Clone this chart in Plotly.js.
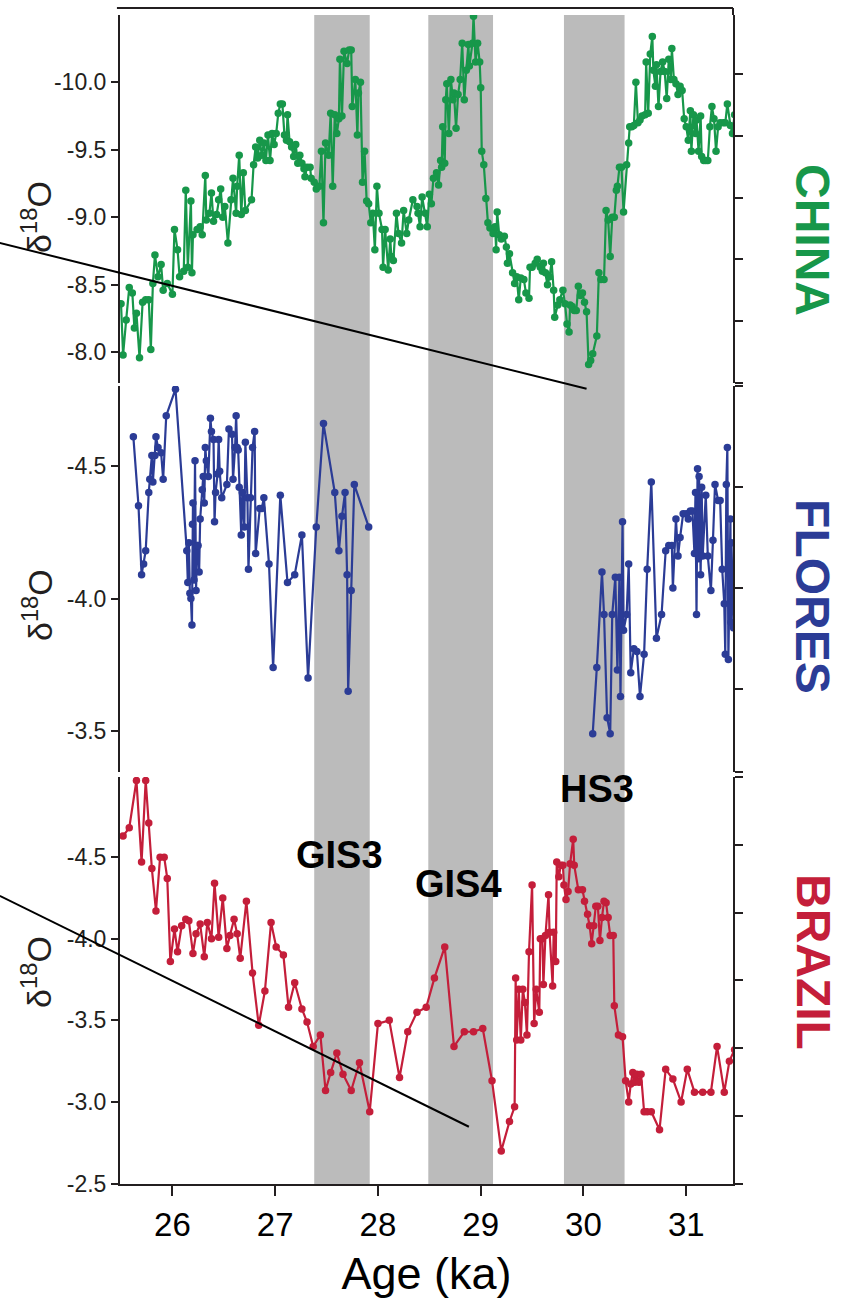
<!DOCTYPE html>
<html>
<head>
<meta charset="utf-8">
<script src="https://cdn.plot.ly/plotly-3.0.1.min.js"></script>
<style>html,body{margin:0;padding:0;background:#fff;}#chart{width:843px;height:1308px;}</style>
</head>
<body>
<div id="chart"></div>
<script>
// ---------------- DATA ----------------
const chinaAge = [25.50,25.52,25.55,25.58,25.61,25.63,25.65,25.68,25.71,25.74,25.77,25.79,25.81,25.83,25.86,25.89,25.91,25.95,26.00,26.02,26.05,26.07,26.11,26.13,26.15,26.18,26.19,26.20,26.24,26.27,26.29,26.32,26.33,26.36,26.38,26.40,26.43,26.45,26.47,26.49,26.51,26.54,26.57,26.59,26.62,26.63,26.65,26.67,26.69,26.71,26.77,26.79,26.81,26.83,26.85,26.87,26.89,26.91,26.93,26.95,26.97,26.99,27.01,27.03,27.05,27.07,27.09,27.11,27.12,27.14,27.16,27.18,27.20,27.22,27.24,27.26,27.28,27.29,27.31,27.34,27.35,27.38,27.40,27.43,27.45,27.47,27.49,27.52,27.54,27.56,27.58,27.60,27.62,27.63,27.65,27.67,27.70,27.72,27.74,27.75,27.78,27.80,27.81,27.83,27.85,27.87,27.89,27.91,27.93,27.95,27.97,27.99,28.01,28.04,28.05,28.07,28.10,28.12,28.13,28.15,28.18,28.20,28.23,28.25,28.28,28.30,28.34,28.38,28.39,28.41,28.43,28.46,28.48,28.50,28.52,28.54,28.57,28.59,28.61,28.62,28.63,28.65,28.66,28.67,28.69,28.71,28.73,28.74,28.76,28.78,28.80,28.82,28.84,28.86,28.88,28.89,28.92,28.93,28.95,28.97,28.99,29.00,29.01,29.03,29.05,29.07,29.09,29.12,29.14,29.15,29.16,29.18,29.20,29.23,29.25,29.26,29.28,29.31,29.33,29.35,29.37,29.39,29.42,29.44,29.47,29.48,29.50,29.53,29.55,29.58,29.60,29.61,29.63,29.65,29.67,29.69,29.71,29.72,29.75,29.77,29.80,29.82,29.84,29.86,29.87,29.89,29.91,29.93,29.95,29.97,29.99,30.01,30.03,30.05,30.07,30.09,30.13,30.15,30.17,30.20,30.22,30.24,30.26,30.28,30.30,30.32,30.33,30.35,30.37,30.39,30.42,30.44,30.45,30.47,30.49,30.51,30.53,30.55,30.57,30.60,30.61,30.63,30.65,30.67,30.68,30.70,30.71,30.73,30.75,30.77,30.79,30.81,30.83,30.85,30.86,30.88,30.90,30.92,30.94,30.96,30.98,31.00,31.02,31.04,31.05,31.07,31.09,31.10,31.12,31.14,31.15,31.17,31.19,31.21,31.23,31.25,31.27,31.29,31.31,31.33,31.36,31.38,31.40,31.43,31.45,31.47];
const chinaD18O = [-8.36,-7.98,-8.24,-8.48,-8.44,-8.18,-8.29,-7.96,-8.37,-8.39,-8.39,-8.02,-8.51,-8.72,-8.56,-8.65,-8.46,-8.51,-8.43,-8.91,-8.76,-8.56,-8.60,-9.20,-8.63,-9.12,-8.59,-8.87,-8.91,-8.93,-8.87,-9.31,-8.98,-9.03,-9.18,-8.97,-9.02,-9.13,-9.21,-9.00,-9.08,-8.81,-9.13,-9.29,-9.03,-9.23,-9.46,-9.02,-9.33,-9.05,-9.13,-9.39,-9.52,-9.44,-9.57,-9.46,-9.55,-9.42,-9.61,-9.42,-9.62,-9.54,-9.62,-9.77,-9.84,-9.84,-9.61,-9.57,-9.76,-9.56,-9.52,-9.45,-9.54,-9.40,-9.46,-9.40,-9.36,-9.30,-9.37,-9.37,-9.29,-9.26,-9.21,-9.23,-9.49,-8.96,-9.55,-9.46,-9.77,-9.23,-9.76,-9.62,-9.73,-10.17,-9.75,-10.23,-10.14,-10.24,-10.24,-9.82,-10.02,-9.61,-9.92,-10.00,-9.26,-9.49,-9.12,-9.10,-8.96,-9.03,-8.76,-9.23,-9.03,-8.91,-8.63,-8.91,-8.61,-8.84,-8.71,-8.68,-9.03,-8.88,-8.81,-9.05,-8.88,-8.98,-9.13,-9.08,-9.03,-8.93,-9.15,-9.03,-8.93,-9.17,-9.10,-9.29,-9.33,-9.24,-9.42,-9.37,-9.67,-9.40,-9.87,-9.99,-9.62,-10.02,-9.87,-9.92,-9.66,-9.91,-10.02,-10.29,-9.87,-10.09,-10.28,-10.12,-10.29,-10.49,-10.15,-10.29,-10.15,-9.96,-9.49,-9.39,-9.14,-8.96,-8.92,-8.88,-8.93,-8.76,-9.04,-8.87,-8.84,-8.86,-8.78,-8.66,-8.73,-8.59,-8.51,-8.56,-8.39,-8.55,-8.54,-8.44,-8.40,-8.63,-8.63,-8.66,-8.69,-8.63,-8.60,-8.66,-8.59,-8.50,-8.56,-8.67,-8.46,-8.26,-8.35,-8.39,-8.46,-8.36,-8.21,-8.15,-8.35,-8.34,-8.31,-8.31,-8.49,-8.42,-8.44,-8.37,-8.30,-7.91,-7.94,-7.99,-8.12,-8.59,-8.54,-8.54,-9.05,-8.98,-8.71,-9.00,-9.00,-9.20,-9.23,-9.37,-9.37,-9.04,-9.39,-9.55,-9.67,-9.67,-9.68,-10.00,-9.70,-9.72,-9.75,-9.76,-10.15,-9.77,-10.21,-10.34,-10.09,-9.97,-10.13,-9.82,-10.08,-10.15,-10.08,-9.88,-10.17,-10.02,-10.25,-10.02,-9.99,-9.91,-9.97,-9.94,-9.73,-9.67,-9.57,-9.79,-9.49,-9.76,-9.62,-9.72,-9.49,-9.75,-9.45,-9.42,-9.42,-9.42,-9.67,-9.82,-9.73,-9.49,-9.67,-9.70,-9.70,-9.70,-9.84,-9.68,-9.62,-9.76];

// Flores: null marks the hiatus in the record
const floresAge = [25.62,25.67,25.70,25.72,25.74,25.77,25.78,25.80,25.81,25.83,25.84,25.86,25.89,25.91,25.94,26.03,26.14,26.15,26.16,26.17,26.18,26.19,26.195,26.20,26.21,26.22,26.23,26.24,26.25,26.26,26.27,26.29,26.30,26.31,26.32,26.33,26.35,26.37,26.38,26.40,26.41,26.42,26.44,26.45,26.46,26.48,26.53,26.55,26.58,26.59,26.61,26.62,26.63,26.64,26.65,26.67,26.68,26.70,26.71,26.73,26.74,26.76,26.78,26.80,26.81,26.85,26.87,26.89,26.94,26.98,27.05,27.12,27.19,27.26,27.32,27.40,27.47,27.58,27.62,27.65,27.68,27.70,27.71,27.74,27.77,27.91,
  null,
  30.09,30.13,30.18,30.20,30.23,30.26,30.28,30.31,30.33,30.35,30.36,30.38,30.39,30.42,30.44,30.46,30.49,30.52,30.55,30.59,30.62,30.66,30.71,30.76,30.80,30.83,30.86,30.87,30.90,30.92,30.94,30.97,31.00,31.02,31.04,31.06,31.08,31.09,31.10,31.11,31.12,31.125,31.14,31.15,31.16,31.19,31.21,31.24,31.26,31.28,31.31,31.33,31.35,31.37,31.38,31.39,31.40,31.41,31.43,31.435,31.44,31.45,31.46];
const floresD18O = [-4.61,-4.35,-4.09,-4.13,-4.18,-4.40,-4.45,-4.54,-4.44,-4.54,-4.61,-4.57,-4.55,-4.45,-4.69,-4.79,-4.18,-4.06,-4.21,-4.02,-4.00,-3.90,-4.28,-4.36,-4.07,-4.52,-4.03,-4.20,-4.20,-4.10,-4.30,-4.41,-4.46,-4.36,-4.57,-4.52,-4.46,-4.68,-4.63,-4.60,-4.29,-4.40,-4.47,-4.60,-4.48,-4.38,-4.43,-4.64,-4.62,-4.45,-4.57,-4.69,-4.57,-4.56,-4.42,-4.24,-4.40,-4.27,-4.59,-4.38,-4.11,-4.38,-4.57,-4.63,-4.17,-4.34,-4.34,-4.38,-4.13,-3.74,-4.39,-4.06,-4.09,-4.24,-3.70,-4.27,-4.66,-4.40,-4.18,-4.31,-4.40,-4.09,-3.65,-4.03,-4.43,-4.27,
  null,
  -3.49,-3.74,-4.10,-3.94,-3.55,-3.49,-3.94,-4.08,-3.73,-4.08,-3.63,-4.29,-3.88,-3.94,-4.13,-3.72,-3.81,-3.80,-3.63,-3.79,-4.11,-4.44,-3.85,-3.94,-4.18,-4.20,-4.20,-4.04,-4.30,-4.16,-4.23,-4.32,-4.32,-4.30,-4.33,-4.33,-4.17,-4.40,-3.94,-4.49,-4.15,-4.46,-4.09,-4.42,-4.16,-4.39,-4.16,-4.03,-4.22,-4.43,-4.37,-4.37,-4.11,-3.98,-3.79,-4.43,-4.57,-3.77,-4.30,-3.91,-4.21,-3.99,-3.89];

const brazilAge = [25.52,25.58,25.65,25.70,25.74,25.77,25.80,25.84,25.88,25.92,25.95,25.98,26.02,26.05,26.09,26.13,26.16,26.20,26.23,26.27,26.31,26.34,26.38,26.41,26.45,26.49,26.53,26.56,26.60,26.63,26.66,26.72,26.78,26.84,26.90,26.96,27.01,27.08,27.13,27.19,27.26,27.31,27.37,27.44,27.49,27.54,27.60,27.66,27.74,27.82,27.92,28.00,28.11,28.21,28.29,28.38,28.47,28.55,28.65,28.74,28.84,28.93,29.02,29.11,29.20,29.28,29.33,29.34,29.35,29.37,29.39,29.41,29.43,29.45,29.47,29.50,29.52,29.54,29.57,29.58,29.60,29.61,29.63,29.66,29.67,29.70,29.71,29.73,29.74,29.76,29.78,29.80,29.81,29.83,29.85,29.87,29.90,29.91,29.95,29.99,30.01,30.04,30.06,30.08,30.10,30.12,30.14,30.16,30.18,30.20,30.22,30.24,30.26,30.29,30.30,30.34,30.38,30.41,30.44,30.46,30.48,30.50,30.52,30.54,30.56,30.59,30.62,30.66,30.74,30.80,30.87,30.95,31.01,31.08,31.16,31.24,31.30,31.37,31.42,31.47];
const brazilD18O = [-4.63,-4.68,-4.97,-4.47,-4.97,-4.71,-4.43,-4.17,-4.50,-4.50,-4.37,-3.86,-4.06,-3.92,-4.08,-4.12,-4.11,-3.91,-4.03,-4.09,-3.89,-4.10,-4.00,-4.34,-4.01,-4.25,-3.94,-4.02,-4.12,-4.03,-3.88,-4.23,-3.79,-3.47,-3.68,-4.10,-3.95,-3.90,-3.58,-3.73,-3.57,-3.49,-3.34,-3.41,-3.07,-3.18,-3.30,-3.17,-3.07,-3.24,-2.94,-3.48,-3.50,-3.15,-3.43,-3.55,-3.58,-3.76,-3.95,-3.34,-3.43,-3.43,-3.45,-3.13,-2.70,-2.88,-2.97,-3.76,-3.38,-3.69,-3.38,-3.69,-3.61,-3.41,-3.92,-4.33,-3.48,-3.69,-3.55,-4.00,-4.00,-3.72,-4.02,-4.27,-4.04,-3.71,-4.04,-3.86,-4.47,-4.38,-4.45,-4.45,-4.33,-4.24,-4.29,-4.46,-4.61,-4.45,-4.30,-4.30,-4.23,-4.15,-4.08,-3.97,-4.08,-4.20,-4.20,-3.99,-4.13,-4.23,-4.22,-4.13,-4.02,-4.02,-3.59,-3.41,-3.40,-3.13,-3.00,-3.11,-3.18,-3.12,-3.17,-3.12,-3.17,-2.94,-2.94,-2.94,-2.83,-3.20,-3.14,-3.00,-3.20,-3.06,-3.06,-3.06,-3.34,-3.06,-3.25,-3.32];

// shaded events (start, end in ka) and their labels
const eventStart = [27.38, 28.49, 29.81];
const eventEnd   = [27.92, 29.12, 30.40];
const eventName  = ['GIS3', 'GIS4', 'HS3'];

// trend lines (age, δ18O end points)
const chinaTrendAge = [24.32, 30.03];
const chinaTrendVal = [-8.81, -7.73];
const brazilTrendAge = [24.32, 28.885];
const brazilTrendVal = [-4.263, -2.848];

const xTicks = [26, 27, 28, 29, 30, 31];
const chinaTicks = [-10.0, -9.5, -9.0, -8.5, -8.0];
const floresTicks = [-4.5, -4.0, -3.5];
const brazilTicks = [-4.5, -4.0, -3.5, -3.0, -2.5];

// ---------------- STYLE ----------------
const GREEN = '#17974A', BLUE = '#2B3C96', RED = '#C41E3A', AX = '#231F20', BAND = '#BBBBBB';
const FONT = 'Liberation Sans, Arial, Helvetica, sans-serif';
const xRange = [25.49, 31.455];
const chinaRange = [-7.7726, -10.4985];
const floresRange = [-3.3453, -4.8019];
const brazilRange = [-2.497, -4.9914];

function series(x, y, color, yax) {
  return {x: x, y: y, xaxis: 'x', yaxis: yax, type: 'scatter', mode: 'lines+markers',
    connectgaps: false, line: {color: color, width: 2.2}, marker: {color: color, size: 7.5},
    hoverinfo: 'x+y'};
}
const traces = [
  series(chinaAge, chinaD18O, GREEN, 'y'),
  series(floresAge, floresD18O, BLUE, 'y2'),
  series(brazilAge, brazilD18O, RED, 'y3'),
  {x: [], y: [], xaxis: 'x', yaxis: 'y4', type: 'scatter'},
  {x: [], y: [], xaxis: 'x', yaxis: 'y5', type: 'scatter'},
  {x: [], y: [], xaxis: 'x', yaxis: 'y6', type: 'scatter'}
];

function leftAxis(domain, range, ticks) {
  return {domain: domain, range: range, anchor: 'x', autorange: false,
    tickvals: ticks, ticktext: ticks.map(v => v.toFixed(1)),
    ticks: 'outside', ticklen: 7, tickwidth: 2, tickcolor: AX,
    showline: true, linewidth: 2, linecolor: AX, showgrid: false, zeroline: false,
    tickfont: {family: FONT, size: 23, color: AX}};
}
function rightAxis(over, range, ticks) {
  return {overlaying: over, side: 'right', anchor: 'x', range: range, autorange: false,
    tickvals: ticks, showticklabels: false, ticks: 'outside', ticklen: 8, tickwidth: 2,
    tickcolor: AX, showline: true, linewidth: 2, linecolor: AX, showgrid: false, zeroline: false};
}

const dChina = [0.68112, 0.99405], dFlores = [0.35034, 0.67857], dBrazil = [0, 0.34609];

const shapes = [];
eventStart.forEach((s, i) => shapes.push({type: 'rect', xref: 'x', yref: 'paper',
  x0: s, x1: eventEnd[i], y0: 0, y1: dChina[1], fillcolor: BAND, line: {width: 0}, layer: 'below'}));
function frac(v, r) { return (v - r[0]) / (r[1] - r[0]); }
shapes.push({type: 'line', xref: 'x domain', yref: 'y domain',
  x0: frac(chinaTrendAge[0], xRange), x1: frac(chinaTrendAge[1], xRange),
  y0: frac(chinaTrendVal[0], chinaRange), y1: frac(chinaTrendVal[1], chinaRange),
  line: {color: '#000', width: 2}});
shapes.push({type: 'line', xref: 'x domain', yref: 'y3 domain',
  x0: frac(brazilTrendAge[0], xRange), x1: frac(brazilTrendAge[1], xRange),
  y0: frac(brazilTrendVal[0], brazilRange), y1: frac(brazilTrendVal[1], brazilRange),
  line: {color: '#000', width: 2}});
// top frame line, top of right axis and x-axis line extension
shapes.push({type: 'line', xref: 'paper', yref: 'paper', x0: -0.005, x1: 1.0, y0: 1, y1: 1, line: {color: AX, width: 2}});
shapes.push({type: 'line', xref: 'paper', yref: 'paper', x0: 1.0, x1: 1.0, y0: dChina[1], y1: 1, line: {color: AX, width: 2}});
shapes.push({type: 'line', xref: 'paper', yref: 'paper', x0: 1.0, x1: 1.015, y0: 0, y1: 0, line: {color: AX, width: 2}});

const annotations = [];
const labelX = [27.63, 28.78, 30.135];
const labelY = [0.2795, 0.2555, 0.3355];
eventName.forEach((n, i) => annotations.push({text: n, xref: 'x', yref: 'paper',
  x: labelX[i], y: labelY[i], xanchor: 'center', yanchor: 'middle', showarrow: false,
  font: {family: FONT, size: 38, color: '#000', weight: 'bold'}}));
const titleFont = {family: FONT, size: 34, color: AX};
[0.8223, 0.4923, 0.1803].forEach(yy => annotations.push({
  text: 'δ<sup>18</sup>O', xref: 'paper', yref: 'paper', x: -0.1354, y: yy,
  xanchor: 'center', yanchor: 'middle', showarrow: false, textangle: -90, font: titleFont}));
[['CHINA', GREEN, 0.8027], ['FLORES', BLUE, 0.4991], ['BRAZIL', RED, 0.1888]].forEach(p => annotations.push({
  text: p[0], xref: 'paper', yref: 'paper', x: 1.1305, y: p[2], xanchor: 'center', yanchor: 'middle',
  showarrow: false, textangle: 90,
  font: {family: FONT, size: 48, color: p[1], weight: 'bold'}}));

const layout = {
  width: 843, height: 1308, margin: {l: 120, r: 110, t: 8, b: 124},
  paper_bgcolor: '#fff', plot_bgcolor: 'rgba(0,0,0,0)', showlegend: false,
  xaxis: {range: xRange, autorange: false, anchor: 'y3', tickvals: xTicks, ticks: 'outside',
    ticklen: 10, tickwidth: 2, tickcolor: AX, showline: true, linewidth: 2, linecolor: AX,
    showgrid: false, zeroline: false, tickfont: {family: FONT, size: 33, color: '#000'},
    title: {text: 'Age (ka)', font: {family: FONT, size: 45, color: '#000'}, standoff: 16}},
  yaxis: leftAxis(dChina, chinaRange, chinaTicks),
  yaxis2: leftAxis(dFlores, floresRange, floresTicks),
  yaxis3: leftAxis(dBrazil, brazilRange, brazilTicks),
  yaxis4: rightAxis('y', [0, 5.955], [0, 1, 2, 3, 4, 5]),
  yaxis5: rightAxis('y2', [0, 3.816], [0, 0.816, 1.816, 2.816, 3.816]),
  yaxis6: rightAxis('y3', [0, 6], [0, 1, 2, 3, 4, 5, 6]),
  shapes: shapes, annotations: annotations
};
Plotly.newPlot('chart', traces, layout, {displayModeBar: false, staticPlot: true});
</script>
</body>
</html>
